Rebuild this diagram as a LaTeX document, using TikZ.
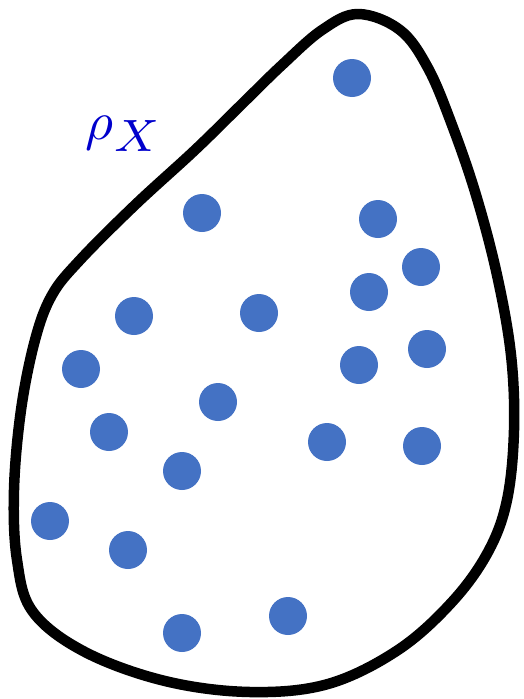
\documentclass[tikz,border=0pt]{standalone}
\usepackage{xcolor}
\usepackage{graphicx}
\definecolor{dotblue}{HTML}{4472C4}
\definecolor{labblue}{HTML}{0000CC}
\begin{document}
\begin{tikzpicture}[x=1pt,y=-1pt,
  dot/.style={circle,fill=dotblue,inner sep=0pt,minimum size=38pt},
  outline/.style={line width=10.5pt,line join=round}]
\useasboundingbox (0,0) rectangle (523,699);
\draw[outline] plot[smooth cycle,tension=0.6] coordinates {
 (358,14) (400,30) (428,68) (452,125) (476,195) (497,275) (511,355) (514,430)
 (507,500) (488,552) (452,602) (398,650) (328,684) (250,692) (165,681)
 (85,652) (33,612) (17,560) (14,490) (21,410) (35,340) (52,295) (80,260)
 (135,205) (195,150) (243,103) (282,65) (322,30)};
\node[text=labblue,scale=5.4,inner sep=0pt] (lab) at (124,134) {$\rho_{\scalebox{1.2}{$\scriptstyle X$}}$};
\foreach \n/\x/\y in {a/352/78,b/202/213,c/378/219,d/421/267,e/369/292,f/134/316,
 g/259/313,h/427/349,i/81/369,j/359/365,k/218/402,l/109/432,m/327/442,n/422/446,
 o/182/471,p/50/521,q/128/550,r/288/616,s/182/633}
 \node[dot] (\n) at (\x,\y) {};
\end{tikzpicture}
\end{document}
